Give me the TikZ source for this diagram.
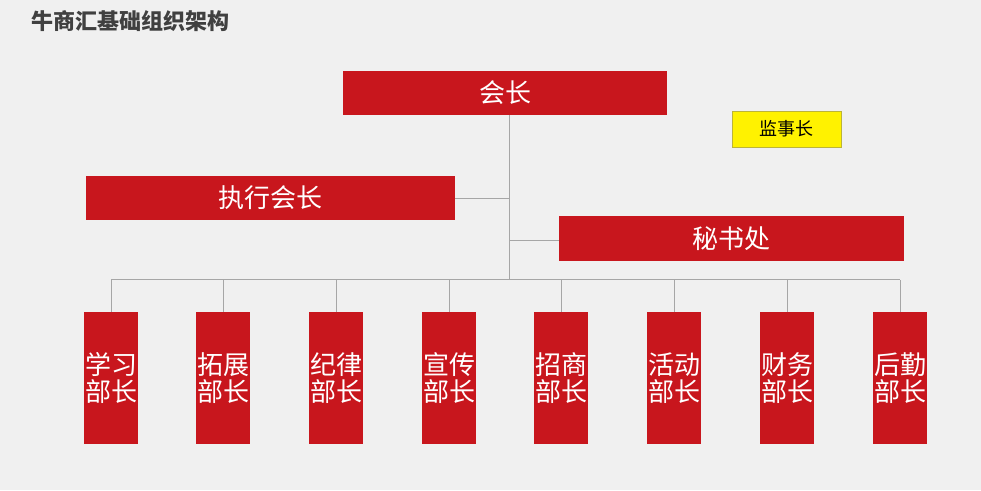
\documentclass[tikz,border=0pt]{standalone}
\usepackage{fontspec}
\newfontfamily\cjk{Noto Sans CJK SC}
\usetikzlibrary{positioning}
\definecolor{hongse}{HTML}{C8161D}
\definecolor{xianse}{HTML}{A6A6A6}
\tikzset{
  hongkuang/.style={fill=hongse,text=white,inner sep=0pt,font=\cjk\fontsize{26}{28}\selectfont},
  bumen/.style={hongkuang,minimum width=54pt,minimum height=132pt,align=center,font=\cjk\fontsize{26}{27.5}\selectfont},
  lianxian/.style={xianse,line width=0.8pt}
}
\begin{document}
\begin{tikzpicture}[x=1pt,y=-1pt]
  \fill[gray!12] (0,0) rectangle (981,490);
  \useasboundingbox (0,0) rectangle (981,490);

  % Title
  \node[anchor=west,text=black!75,font=\cjk\bfseries\fontsize{22}{24}\selectfont] (biaoti) at (28,21) {牛商汇基础组织架构};

  % Leaders
  \node[hongkuang,minimum width=324pt,minimum height=44pt] (huizhang) at (505,93) {会长};
  \node[fill=yellow,draw=yellow!70!black,line width=0.3pt,minimum width=109pt,minimum height=36pt,font=\cjk\fontsize{18}{20}\selectfont] (jianshi) at (786.5,129) {监事长};
  \node[hongkuang,minimum width=369pt,minimum height=44pt] (zhixing) at (270.5,198) {执行会长};
  \node[hongkuang,minimum width=345pt,minimum height=45pt] (mishu) at (731.5,238.5) {秘书处};

  \coordinate (zhong) at (509,279);
  \draw[lianxian] (509,115) -- (zhong);
  \draw[lianxian] (zhixing.east) -- (509,198);
  \draw[lianxian] (509,240) -- (mishu.west |- 0,240);

  % Departments
  \foreach \x/\ming [count=\i] in {111/学习,223/拓展,336/纪律,449/宣传,561/招商,674/活动,787/财务,900/后勤}{
    \node[bumen,anchor=north] (bu\i) at (\x,312) {\ming\\部长};
    \draw[lianxian] (bu\i.north) -- (\x,280);
  }
  \draw[lianxian] (bu1.north |- zhong) -- (bu8.north |- zhong);
\end{tikzpicture}
\end{document}
